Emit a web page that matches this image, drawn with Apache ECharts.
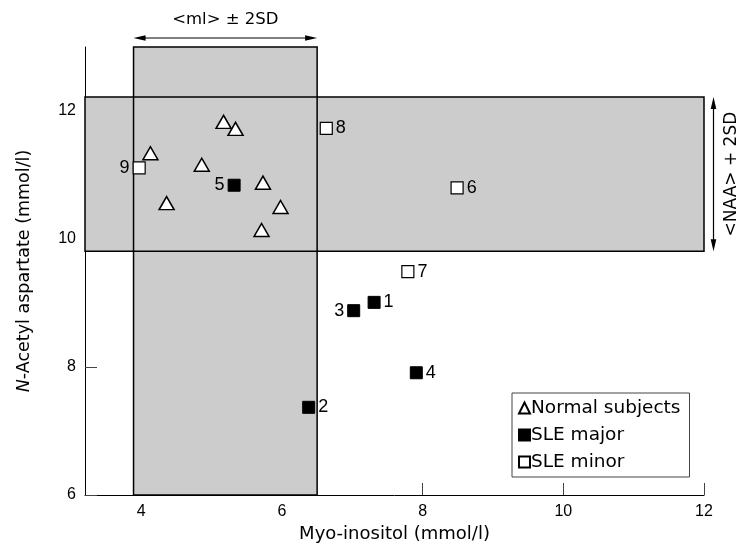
<!DOCTYPE html>
<html>
<head>
<meta charset="utf-8">
<script src="https://cdn.jsdelivr.net/npm/echarts@6/dist/echarts.min.js"></script>
<style>
  html, body { margin: 0; padding: 0; background: #fff; }
  #main { width: 739px; height: 548px; }
</style>
</head>
<body>
<div id="main"></div>
<script>
// Normal subjects (triangles)
const normalX = [5.17, 5.34, 4.13, 4.86, 5.73, 4.36, 5.98, 5.71];
const normalY = [11.83, 11.72, 11.34, 11.16, 10.88, 10.56, 10.50, 10.14];
// SLE major (filled squares)
const majorIds = [1, 2, 3, 4, 5];
const majorX = [7.31, 6.38, 7.02, 7.91, 5.32];
const majorY = [9.01, 7.37, 8.88, 7.91, 10.84];
// SLE minor (open squares)
const minorIds = [6, 7, 8, 9];
const minorX = [8.49, 7.79, 6.63, 3.97];
const minorY = [10.80, 9.49, 11.73, 11.11];
// reference ranges
const mlBand = [3.89, 6.5];     // <ml> ± 2SD
const naaBand = [9.81, 12.22];  // <NAA> ± 2SD
const xTicks = [4, 6, 8, 10, 12];
const yTicks = [6, 8, 10, 12];
const leftLabelled = [3, 5, 9];

const WORD = "'DejaVu Sans', sans-serif";
const NUM = "'Liberation Sans', Arial, sans-serif";
const xMin = 3.2, xMax = 12, yMin = 6, yMax = 13;

const chart = echarts.init(document.getElementById('main'));

const pts = (xs, ys, ids) => xs.map((x, i) => ({
    value: [x, ys[i]],
    name: ids ? String(ids[i]) : '',
    label: ids ? { position: leftLabelled.includes(ids[i]) ? 'left' : 'right' } : undefined
}));

const pointLabel = {
    show: true,
    formatter: '{b}',
    distance: 3,
    color: '#000',
    fontFamily: NUM,
    fontSize: 18
};

const option = {
    animation: false,
    backgroundColor: '#fff',
    grid: { left: 85, right: 35, top: 47, bottom: 50, containLabel: false },
    legend: {
        data: ['Normal subjects', 'SLE major', 'SLE minor'],
        orient: 'vertical',
        left: 512,
        top: 393,
        padding: [5, 9, 5, 6],
        itemWidth: 11,
        itemHeight: 11,
        itemGap: 7,
        borderColor: '#444',
        borderWidth: 1,
        backgroundColor: '#fff',
        selectedMode: false,
        textStyle: {
            color: '#000', fontFamily: WORD, fontSize: 18.5, lineHeight: 20,
            padding: [0, 0, 0, -4]
        }
    },
    xAxis: {
        type: 'value',
        min: xMin, max: xMax,
        name: 'Myo-inositol (mmol/l)',
        nameLocation: 'middle',
        nameGap: 30,
        nameTextStyle: { color: '#000', fontFamily: WORD, fontSize: 18 },
        axisLine: { lineStyle: { color: '#000', width: 1 } },
        axisTick: { inside: true, length: 12, customValues: xTicks, lineStyle: { color: '#444' } },
        axisLabel: { customValues: xTicks, color: '#000', fontFamily: NUM, fontSize: 16, margin: 9 },
        splitLine: { show: false }
    },
    yAxis: {
        type: 'value',
        min: yMin, max: yMax,
        name: '{i|N}-Acetyl aspartate (mmol/l)',
        nameLocation: 'middle',
        nameRotate: 90,
        nameGap: 52,
        nameTextStyle: {
            color: '#000', fontFamily: WORD, fontSize: 17.5,
            rich: { i: { fontStyle: 'italic', fontFamily: WORD, fontSize: 17.5, color: '#000' } }
        },
        axisLine: { show: true, lineStyle: { color: '#000', width: 1 } },
        axisTick: { show: true, inside: true, length: 12, customValues: yTicks, lineStyle: { color: '#444' } },
        axisLabel: { customValues: yTicks, color: '#000', fontFamily: NUM, fontSize: 16, margin: 9 },
        splitLine: { show: false }
    },
    series: [
        {
            name: 'bands',
            type: 'scatter',
            data: [],
            z: 1,
            markArea: {
                silent: true,
                label: { show: false },
                itemStyle: { color: '#cccccc', borderWidth: 0 },
                data: [
                    [{ xAxis: mlBand[0], yAxis: yMin }, { xAxis: mlBand[1], yAxis: yMax }],
                    [{ xAxis: xMin, yAxis: naaBand[0] }, { xAxis: xMax, yAxis: naaBand[1] }]
                ]
            }
        },
        {
            name: 'band edges',
            type: 'scatter',
            data: [],
            z: 2,
            markArea: {
                silent: true,
                label: { show: false },
                itemStyle: { color: 'rgba(0,0,0,0)', borderColor: '#000', borderWidth: 1.5 },
                data: [
                    [{ xAxis: mlBand[0], yAxis: yMin }, { xAxis: mlBand[1], yAxis: yMax }],
                    [{ xAxis: xMin, yAxis: naaBand[0] }, { xAxis: xMax, yAxis: naaBand[1] }]
                ]
            }
        },
        {
            name: 'Normal subjects',
            type: 'scatter',
            symbol: 'triangle',
            symbolSize: [15, 13],
            z: 5,
            itemStyle: { color: '#fff', borderColor: '#000', borderWidth: 1.5, opacity: 1 },
            data: pts(normalX, normalY)
        },
        {
            name: 'SLE major',
            type: 'scatter',
            symbol: 'rect',
            symbolSize: 12,
            z: 5,
            itemStyle: { color: '#000', borderColor: '#000', borderWidth: 1, opacity: 1 },
            label: pointLabel,
            data: pts(majorX, majorY, majorIds)
        },
        {
            name: 'SLE minor',
            type: 'scatter',
            symbol: 'rect',
            symbolSize: 12,
            z: 5,
            itemStyle: { color: '#fff', borderColor: '#000', borderWidth: 1.2, opacity: 1 },
            label: pointLabel,
            data: pts(minorX, minorY, minorIds)
        }
    ]
};

chart.setOption(option);

// annotations tied to the band edges
const px = (x, y) => chart.convertToPixel({ gridIndex: 0 }, [x, y]);
const [xl, yTop] = px(mlBand[0], yMax);
const xr = px(mlBand[1], yMax)[0];
const [x12, yn1] = px(xMax, naaBand[1]);
const yn0 = px(xMax, naaBand[0])[1];
const ya = yTop - 9;
const xa = x12 + 9.5;
const HL = 12, HW = 2.8;
const lineStyle = { stroke: '#000', lineWidth: 1.2 };

chart.setOption({
    graphic: [
        { type: 'line', shape: { x1: xl + 6, y1: ya, x2: xr - 6, y2: ya }, style: lineStyle, z: 10 },
        { type: 'polygon', shape: { points: [[xl, ya], [xl + HL, ya - HW], [xl + HL, ya + HW]] }, style: { fill: '#000' }, z: 10 },
        { type: 'polygon', shape: { points: [[xr, ya], [xr - HL, ya - HW], [xr - HL, ya + HW]] }, style: { fill: '#000' }, z: 10 },
        {
            type: 'text', x: (xl + xr) / 2, y: yTop - 27, z: 10,
            style: { text: '<ml> ± 2SD', fill: '#000', font: "16.5px " + WORD, align: 'center', verticalAlign: 'middle' }
        },
        { type: 'line', shape: { x1: xa, y1: yn1 + 6, x2: xa, y2: yn0 - 6 }, style: lineStyle, z: 10 },
        { type: 'polygon', shape: { points: [[xa, yn1], [xa - HW, yn1 + HL], [xa + HW, yn1 + HL]] }, style: { fill: '#000' }, z: 10 },
        { type: 'polygon', shape: { points: [[xa, yn0], [xa - HW, yn0 - HL], [xa + HW, yn0 - HL]] }, style: { fill: '#000' }, z: 10 },
        {
            type: 'text', x: x12 + 28, y: (yn0 + yn1) / 2, rotation: Math.PI / 2, z: 10,
            style: { text: '<NAA> + 2SD', fill: '#000', font: "17px " + WORD, align: 'center', verticalAlign: 'middle' }
        }
    ]
});
</script>
</body>
</html>
